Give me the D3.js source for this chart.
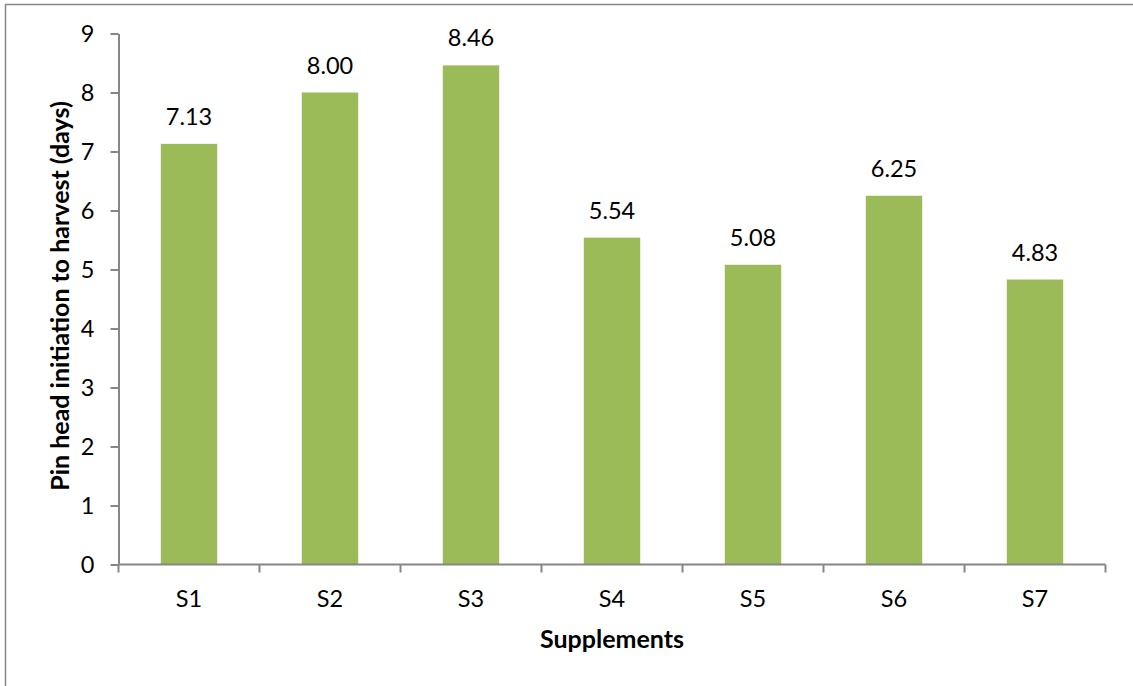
<!DOCTYPE html>
<html>
<head>
<meta charset="utf-8">
<script src="https://cdn.jsdelivr.net/npm/d3@7"></script>
<style>
  html, body { margin: 0; padding: 0; background: #fff; }
  svg { display: block; font-family: Lato, "Open Sans", sans-serif; }
</style>
</head>
<body>
<svg id="chart" width="1133" height="686"></svg>
<script>
// Supplement treatments and days from pin head initiation to harvest
const categories = ["S1", "S2", "S3", "S4", "S5", "S6", "S7"];
const values = [7.13, 8.00, 8.46, 5.54, 5.08, 6.25, 4.83];
const yTicks = [0, 1, 2, 3, 4, 5, 6, 7, 8, 9];

const svg = d3.select("#chart");
const W = 1133, H = 686;
const plot = { left: 118.5, right: 1105.5, top: 33.5, bottom: 564.5 };
const axisColor = "#868686";
const barColor = "#9BBB59";
const labelSize = 23.5;
const titleSize = 25;

// outer frame of the chart area
svg.append("rect")
  .attr("x", 5.5).attr("y", 4.5)
  .attr("width", W + 10).attr("height", H + 10)
  .attr("fill", "none").attr("stroke", axisColor).attr("stroke-width", 1.5);

const x = d3.scaleBand()
  .domain(categories)
  .range([plot.left, plot.right])
  .paddingInner(0.6)
  .paddingOuter(0.3);

const y = d3.scaleLinear().domain([0, 9]).range([plot.bottom, plot.top]);

// bars
svg.append("g").selectAll("rect")
  .data(values)
  .join("rect")
  .attr("x", (d, i) => x(categories[i]))
  .attr("y", d => y(d))
  .attr("width", x.bandwidth())
  .attr("height", d => y(0) - y(d))
  .attr("fill", barColor);

// value labels
svg.append("g").selectAll("text")
  .data(values)
  .join("text")
  .attr("x", (d, i) => x(categories[i]) + x.bandwidth() / 2)
  .attr("y", d => y(d) - 19)
  .attr("text-anchor", "middle")
  .attr("font-size", labelSize)
  .attr("fill", "#000")
  .text(d => d.toFixed(2));

// y axis
const yAxis = svg.append("g")
  .attr("transform", `translate(${plot.left},0)`)
  .call(d3.axisLeft(y).tickValues(yTicks).tickSize(8).tickPadding(16).tickSizeOuter(0));
yAxis.select(".domain").attr("stroke", axisColor).attr("stroke-width", 2);
yAxis.selectAll(".tick line").attr("stroke", axisColor).attr("stroke-width", 2);
yAxis.selectAll(".tick text")
  .attr("font-size", labelSize).attr("fill", "#000")
  .attr("font-family", "Lato, 'Open Sans', sans-serif");

// x axis with ticks at category boundaries
const xAxisG = svg.append("g").attr("transform", `translate(0,${plot.bottom})`);
const step = x.step();
const boundaries = d3.range(categories.length + 1).map(i => plot.left + i * step);
xAxisG.append("line")
  .attr("x1", plot.left).attr("x2", plot.right)
  .attr("stroke", axisColor).attr("stroke-width", 2);
xAxisG.selectAll("line.tk")
  .data(boundaries)
  .join("line")
  .attr("class", "tk")
  .attr("x1", d => d).attr("x2", d => d)
  .attr("y1", 0).attr("y2", 8)
  .attr("stroke", axisColor).attr("stroke-width", 2);
xAxisG.selectAll("text")
  .data(categories)
  .join("text")
  .attr("x", d => x(d) + x.bandwidth() / 2)
  .attr("y", 42)
  .attr("text-anchor", "middle")
  .attr("font-size", labelSize)
  .attr("fill", "#000")
  .text(d => d);

// axis titles
svg.append("text")
  .attr("x", (plot.left + plot.right) / 2)
  .attr("y", 648)
  .attr("text-anchor", "middle")
  .attr("font-size", titleSize)
  .attr("font-weight", "bold")
  .text("Supplements");

svg.append("text")
  .attr("transform", `translate(69,${(plot.top + plot.bottom) / 2 - 3}) rotate(-90)`)
  .attr("text-anchor", "middle")
  .attr("font-size", titleSize)
  .attr("font-weight", "bold")
  .text("Pin head initiation to harvest (days)");
</script>
</body>
</html>
